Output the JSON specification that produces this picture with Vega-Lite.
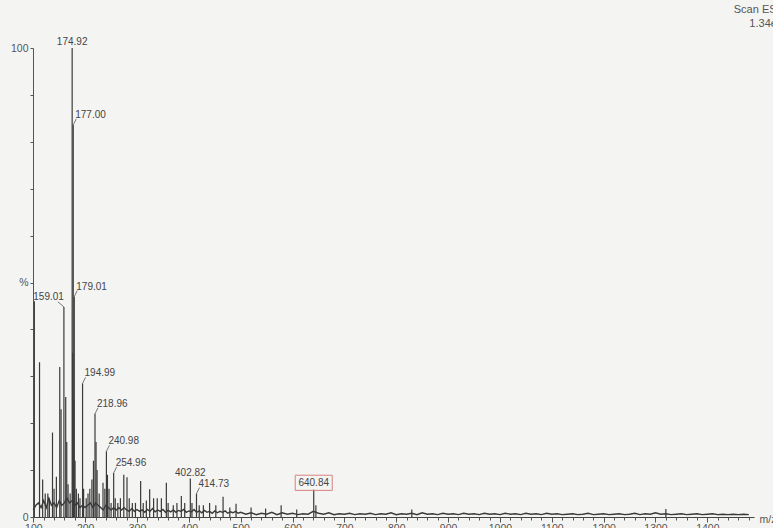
{
  "$schema": "https://vega.github.io/schema/vega-lite/v6.json",
  "width": 721,
  "height": 469,
  "autosize": {"type": "none"},
  "padding": {"left": 33, "top": 48, "right": 19, "bottom": 11},
  "background": "#f4f4f3",
  "config": {
    "view": {"stroke": null},
    "font": "Liberation Sans",
    "title": {"fontSize": 11, "color": "#555", "fontWeight": "normal", "anchor": "end", "frame": "group", "dx": 29, "offset": 8, "subtitleFontSize": 11, "subtitleColor": "#555", "subtitlePadding": 0, "subtitleFont": "Liberation Sans", "font": "Liberation Sans"}
  },
  "title": {"text": "Scan ES+", "subtitle": "1.34e7"},
  "resolve": {"axis": {"x": "independent"}},
  "datasets": {
    "peaks": [
      {"mz": 102, "intensity": 46}, {"mz": 112, "intensity": 33}, {"mz": 118, "intensity": 8}, {"mz": 123, "intensity": 5},
      {"mz": 128, "intensity": 5}, {"mz": 131, "intensity": 4}, {"mz": 137, "intensity": 18}, {"mz": 140, "intensity": 6},
      {"mz": 144.5, "intensity": 8.6}, {"mz": 151, "intensity": 32}, {"mz": 153.5, "intensity": 23}, {"mz": 159.01, "intensity": 44.8},
      {"mz": 162.5, "intensity": 25.6}, {"mz": 164.5, "intensity": 16}, {"mz": 167, "intensity": 7}, {"mz": 171, "intensity": 5},
      {"mz": 174.92, "intensity": 100}, {"mz": 176, "intensity": 35}, {"mz": 177.0, "intensity": 83.6}, {"mz": 178, "intensity": 25},
      {"mz": 179.01, "intensity": 47}, {"mz": 180.5, "intensity": 12}, {"mz": 183, "intensity": 6}, {"mz": 187, "intensity": 5},
      {"mz": 190, "intensity": 4}, {"mz": 194.99, "intensity": 28.5}, {"mz": 197, "intensity": 6}, {"mz": 202, "intensity": 4},
      {"mz": 205.5, "intensity": 5}, {"mz": 209, "intensity": 6}, {"mz": 213, "intensity": 8}, {"mz": 216, "intensity": 12},
      {"mz": 218.96, "intensity": 22}, {"mz": 221, "intensity": 16}, {"mz": 223, "intensity": 10}, {"mz": 227, "intensity": 5},
      {"mz": 234.4, "intensity": 7.3}, {"mz": 238, "intensity": 6}, {"mz": 240.98, "intensity": 14}, {"mz": 243, "intensity": 9},
      {"mz": 246, "intensity": 6}, {"mz": 250, "intensity": 3}, {"mz": 254.96, "intensity": 9.4}, {"mz": 258, "intensity": 4},
      {"mz": 263, "intensity": 3}, {"mz": 268, "intensity": 4}, {"mz": 274.5, "intensity": 9}, {"mz": 280.7, "intensity": 8.5},
      {"mz": 285, "intensity": 4}, {"mz": 291, "intensity": 3}, {"mz": 297, "intensity": 3}, {"mz": 307, "intensity": 7.7},
      {"mz": 312, "intensity": 3}, {"mz": 318, "intensity": 3.5}, {"mz": 324.4, "intensity": 5.9}, {"mz": 332, "intensity": 4},
      {"mz": 339, "intensity": 4}, {"mz": 347, "intensity": 4}, {"mz": 356.6, "intensity": 7.3}, {"mz": 360, "intensity": 3},
      {"mz": 370, "intensity": 2.5}, {"mz": 377, "intensity": 3}, {"mz": 385.5, "intensity": 4.5}, {"mz": 392, "intensity": 3},
      {"mz": 402.82, "intensity": 8.2}, {"mz": 406, "intensity": 3}, {"mz": 414.73, "intensity": 5}, {"mz": 420, "intensity": 2.5},
      {"mz": 428, "intensity": 2.5}, {"mz": 440, "intensity": 3}, {"mz": 452, "intensity": 2.5}, {"mz": 466, "intensity": 4.3},
      {"mz": 479, "intensity": 2}, {"mz": 491, "intensity": 2.8}, {"mz": 520, "intensity": 2}, {"mz": 548, "intensity": 1.8},
      {"mz": 578, "intensity": 2.5}, {"mz": 608, "intensity": 1.6}, {"mz": 640.84, "intensity": 5.8}, {"mz": 645, "intensity": 2.5},
      {"mz": 830, "intensity": 1.6}, {"mz": 1320, "intensity": 1.7}
    ],
    "noise": [
      {"mz": 100, "intensity": 1.5}, {"mz": 105, "intensity": 2.5}, {"mz": 110, "intensity": 3}, {"mz": 115, "intensity": 2},
      {"mz": 120, "intensity": 3.5}, {"mz": 125, "intensity": 2}, {"mz": 130, "intensity": 4}, {"mz": 135, "intensity": 2.5},
      {"mz": 140, "intensity": 3}, {"mz": 145, "intensity": 2}, {"mz": 150, "intensity": 3.5}, {"mz": 155, "intensity": 2.5},
      {"mz": 160, "intensity": 3}, {"mz": 165, "intensity": 4}, {"mz": 170, "intensity": 3}, {"mz": 175, "intensity": 3.5},
      {"mz": 180, "intensity": 2.5}, {"mz": 185, "intensity": 3}, {"mz": 190, "intensity": 2}, {"mz": 195, "intensity": 2.5},
      {"mz": 200, "intensity": 2}, {"mz": 205, "intensity": 2.5}, {"mz": 210, "intensity": 3}, {"mz": 215, "intensity": 2},
      {"mz": 220, "intensity": 3}, {"mz": 225, "intensity": 2.5}, {"mz": 230, "intensity": 2}, {"mz": 235, "intensity": 1.5},
      {"mz": 240, "intensity": 2.5}, {"mz": 245, "intensity": 2}, {"mz": 250, "intensity": 1.5}, {"mz": 255, "intensity": 2},
      {"mz": 260, "intensity": 1.5}, {"mz": 265, "intensity": 2}, {"mz": 270, "intensity": 1.5}, {"mz": 275, "intensity": 2},
      {"mz": 280, "intensity": 1.5}, {"mz": 285, "intensity": 1.2}, {"mz": 290, "intensity": 1.8}, {"mz": 295, "intensity": 1.2},
      {"mz": 300, "intensity": 1.6}, {"mz": 305, "intensity": 1.2}, {"mz": 310, "intensity": 1.5}, {"mz": 315, "intensity": 1},
      {"mz": 320, "intensity": 1.6}, {"mz": 325, "intensity": 1.2}, {"mz": 330, "intensity": 1.8}, {"mz": 335, "intensity": 1.1},
      {"mz": 340, "intensity": 1.5}, {"mz": 345, "intensity": 1.2}, {"mz": 350, "intensity": 1.6}, {"mz": 355, "intensity": 1},
      {"mz": 360, "intensity": 1.4}, {"mz": 365, "intensity": 1.1}, {"mz": 370, "intensity": 1.5}, {"mz": 375, "intensity": 1},
      {"mz": 380, "intensity": 1.4}, {"mz": 385, "intensity": 1.2}, {"mz": 390, "intensity": 1.6}, {"mz": 395, "intensity": 1},
      {"mz": 400, "intensity": 1.3}, {"mz": 405, "intensity": 1.1}, {"mz": 410, "intensity": 1.6}, {"mz": 415, "intensity": 1},
      {"mz": 420, "intensity": 1.3}, {"mz": 425, "intensity": 0.9}, {"mz": 430, "intensity": 1.4}, {"mz": 435, "intensity": 1},
      {"mz": 440, "intensity": 1.2}, {"mz": 445, "intensity": 0.8}, {"mz": 450, "intensity": 1.3}, {"mz": 455, "intensity": 0.9},
      {"mz": 460, "intensity": 1.2}, {"mz": 465, "intensity": 1}, {"mz": 470, "intensity": 1.3}, {"mz": 475, "intensity": 0.8},
      {"mz": 480, "intensity": 1.1}, {"mz": 485, "intensity": 0.9}, {"mz": 490, "intensity": 1.2}, {"mz": 495, "intensity": 0.8},
      {"mz": 500, "intensity": 1}, {"mz": 510, "intensity": 0.6}, {"mz": 520, "intensity": 0.9}, {"mz": 530, "intensity": 0.5},
      {"mz": 540, "intensity": 0.8}, {"mz": 550, "intensity": 0.6}, {"mz": 560, "intensity": 1.0}, {"mz": 570, "intensity": 0.5},
      {"mz": 580, "intensity": 0.9}, {"mz": 590, "intensity": 0.6}, {"mz": 600, "intensity": 0.8}, {"mz": 610, "intensity": 0.5},
      {"mz": 620, "intensity": 0.7}, {"mz": 630, "intensity": 0.6}, {"mz": 640, "intensity": 1.2}, {"mz": 650, "intensity": 0.8},
      {"mz": 660, "intensity": 0.6}, {"mz": 670, "intensity": 0.9}, {"mz": 680, "intensity": 0.5}, {"mz": 690, "intensity": 0.7},
      {"mz": 700, "intensity": 0.6}, {"mz": 710, "intensity": 0.8}, {"mz": 720, "intensity": 0.5}, {"mz": 730, "intensity": 0.7},
      {"mz": 740, "intensity": 0.6}, {"mz": 750, "intensity": 0.8}, {"mz": 760, "intensity": 0.5}, {"mz": 770, "intensity": 0.7},
      {"mz": 780, "intensity": 0.6}, {"mz": 790, "intensity": 0.9}, {"mz": 800, "intensity": 0.5}, {"mz": 810, "intensity": 0.7},
      {"mz": 820, "intensity": 0.6}, {"mz": 830, "intensity": 0.8}, {"mz": 840, "intensity": 0.5}, {"mz": 850, "intensity": 0.9},
      {"mz": 860, "intensity": 0.6}, {"mz": 870, "intensity": 0.7}, {"mz": 880, "intensity": 0.5}, {"mz": 890, "intensity": 0.8},
      {"mz": 900, "intensity": 0.6}, {"mz": 910, "intensity": 0.7}, {"mz": 920, "intensity": 0.5}, {"mz": 930, "intensity": 0.8},
      {"mz": 940, "intensity": 0.6}, {"mz": 950, "intensity": 0.7}, {"mz": 960, "intensity": 0.5}, {"mz": 970, "intensity": 0.8},
      {"mz": 980, "intensity": 0.6}, {"mz": 990, "intensity": 0.7}, {"mz": 1000, "intensity": 0.5}, {"mz": 1010, "intensity": 0.8},
      {"mz": 1020, "intensity": 0.6}, {"mz": 1030, "intensity": 0.7}, {"mz": 1040, "intensity": 0.5}, {"mz": 1050, "intensity": 0.8},
      {"mz": 1060, "intensity": 0.6}, {"mz": 1070, "intensity": 0.7}, {"mz": 1080, "intensity": 0.5}, {"mz": 1090, "intensity": 0.8},
      {"mz": 1100, "intensity": 0.6}, {"mz": 1110, "intensity": 0.7}, {"mz": 1120, "intensity": 0.5}, {"mz": 1130, "intensity": 0.6},
      {"mz": 1140, "intensity": 0.7}, {"mz": 1150, "intensity": 0.5}, {"mz": 1160, "intensity": 0.6}, {"mz": 1170, "intensity": 0.8},
      {"mz": 1180, "intensity": 0.5}, {"mz": 1190, "intensity": 0.6}, {"mz": 1200, "intensity": 0.7}, {"mz": 1210, "intensity": 0.5},
      {"mz": 1220, "intensity": 0.6}, {"mz": 1230, "intensity": 0.7}, {"mz": 1240, "intensity": 0.5}, {"mz": 1250, "intensity": 0.6},
      {"mz": 1260, "intensity": 0.8}, {"mz": 1270, "intensity": 0.5}, {"mz": 1280, "intensity": 0.7}, {"mz": 1290, "intensity": 0.6},
      {"mz": 1300, "intensity": 0.9}, {"mz": 1310, "intensity": 0.6}, {"mz": 1320, "intensity": 0.7}, {"mz": 1330, "intensity": 0.5},
      {"mz": 1340, "intensity": 0.6}, {"mz": 1350, "intensity": 0.7}, {"mz": 1360, "intensity": 0.5}, {"mz": 1370, "intensity": 0.6},
      {"mz": 1380, "intensity": 0.7}, {"mz": 1390, "intensity": 0.5}, {"mz": 1400, "intensity": 0.6}, {"mz": 1410, "intensity": 0.7},
      {"mz": 1420, "intensity": 0.5}, {"mz": 1430, "intensity": 0.6}, {"mz": 1440, "intensity": 0.5}, {"mz": 1450, "intensity": 0.6},
      {"mz": 1460, "intensity": 0.5}, {"mz": 1470, "intensity": 0.6}, {"mz": 1480, "intensity": 0.5}
    ],
    "labelsRight": [
      {"mz": 177.0, "intensity": 83.6, "label": "177.00"},
      {"mz": 179.01, "intensity": 47, "label": "179.01"},
      {"mz": 194.99, "intensity": 28.5, "label": "194.99"},
      {"mz": 218.96, "intensity": 22, "label": "218.96"},
      {"mz": 240.98, "intensity": 14, "label": "240.98"},
      {"mz": 254.96, "intensity": 9.4, "label": "254.96"},
      {"mz": 414.73, "intensity": 5, "label": "414.73"}
    ],
    "labelsLeft": [
      {"mz": 159.01, "intensity": 44.8, "label": "159.01"}
    ],
    "labelsAbove": [
      {"mz": 174.92, "intensity": 100, "label": "174.92"},
      {"mz": 402.82, "intensity": 8.2, "label": "402.82"}
    ],
    "labelsBoxed": [
      {"mz": 640.84, "intensity": 5.8, "label": "640.84"}
    ]
  },
  "layer": [
    {
      "data": {"name": "noise"},
      "mark": {"type": "line", "color": "#3a3a3a", "strokeWidth": 1.4},
      "encoding": {
        "x": {
          "field": "mz", "type": "quantitative",
          "scale": {"domain": [99.4, 1490], "nice": false, "zero": false},
          "axis": {
            "orient": "bottom",
            "title": "m/z",
            "values": [100,200,300,400,500,600,700,800,900,1000,1100,1200,1300,1400],
            "format": "d",
            "labelOverlap": false,
            "tickSize": 5,
            "grid": false,
            "domainColor": "#444",
            "tickColor": "#555",
            "labelColor": "#555",
            "labelFontSize": 10.5,
            "labelPadding": 1,
            "labelFlush": false,
            "titleAnchor": "end",
            "titleAlign": "left",
            "titleX": 726,
            "titleY": 2,
            "titleBaseline": "middle",
            "titleFontWeight": "normal",
            "titleFontSize": 10.5,
            "titleColor": "#555"
          }
        },
        "y": {
          "field": "intensity", "type": "quantitative",
          "scale": {"domain": [0, 100], "nice": false},
          "axis": {
            "title": null,
            "values": [0,10,20,30,40,50,60,70,80,90,100],
            "labelExpr": "datum.value === 100 ? '100' : datum.value === 50 ? '%' : datum.value === 0 ? '0' : ''",
            "labelOverlap": false,
            "grid": false,
            "tickSize": 3,
            "labelPadding": 2,
            "domainColor": "#555",
            "tickColor": "#555",
            "labelColor": "#555",
            "labelFontSize": 10.5
          }
        }
      }
    },
    {
      "data": {"name": "peaks"},
      "mark": {"type": "rule", "color": "#3a3a3a", "strokeWidth": 1.2},
      "encoding": {
        "x": {
          "field": "mz", "type": "quantitative",
          "axis": {
            "orient": "bottom",
            "offset": 0,
            "title": null,
            "values": [120,140,160,180,220,240,260,280,320,340,360,380,420,440,460,480,520,540,560,580,620,640,660,680,720,740,760,780,820,840,860,880,920,940,960,980,1020,1040,1060,1080,1120,1140,1160,1180,1220,1240,1260,1280,1320,1340,1360,1380,1420,1440,1460,1480],
            "labels": false,
            "domain": false,
            "grid": false,
            "tickSize": 3,
            "tickColor": "#555"
          }
        },
        "y": {"field": "intensity", "type": "quantitative"},
        "y2": {"datum": 0}
      }
    },
    {
      "data": {"name": "labelsRight"},
      "layer": [
        {
          "mark": {"type": "rule", "color": "#555", "strokeWidth": 0.8, "x2Offset": 3, "y2Offset": -6},
          "encoding": {
            "x": {"field": "mz", "type": "quantitative", "axis": null},
            "y": {"field": "intensity", "type": "quantitative"},
            "x2": {"field": "mz"},
            "y2": {"field": "intensity"}
          }
        },
        {
          "mark": {"type": "text", "align": "left", "baseline": "bottom", "dx": 2, "dy": -5, "fontSize": 10, "color": "#444"},
          "encoding": {
            "x": {"field": "mz", "type": "quantitative", "axis": null},
            "y": {"field": "intensity", "type": "quantitative"},
            "text": {"field": "label"}
          }
        }
      ]
    },
    {
      "data": {"name": "labelsLeft"},
      "layer": [
        {
          "mark": {"type": "rule", "color": "#555", "strokeWidth": 0.8, "x2Offset": -6, "y2Offset": -5},
          "encoding": {
            "x": {"field": "mz", "type": "quantitative", "axis": null},
            "y": {"field": "intensity", "type": "quantitative"},
            "x2": {"field": "mz"},
            "y2": {"field": "intensity"}
          }
        },
        {
          "mark": {"type": "text", "align": "right", "baseline": "bottom", "dx": 0, "dy": -5, "fontSize": 10, "color": "#444"},
          "encoding": {
            "x": {"field": "mz", "type": "quantitative", "axis": null},
            "y": {"field": "intensity", "type": "quantitative"},
            "text": {"field": "label"}
          }
        }
      ]
    },
    {
      "data": {"name": "labelsAbove"},
      "mark": {"type": "text", "align": "center", "baseline": "bottom", "dy": -1, "fontSize": 10, "color": "#444"},
      "encoding": {
        "x": {"field": "mz", "type": "quantitative", "axis": null},
        "y": {"field": "intensity", "type": "quantitative"},
        "text": {"field": "label"}
      }
    },
    {
      "data": {"name": "labelsBoxed"},
      "layer": [
        {
          "mark": {"type": "point", "shape": "M-1,-0.41L1,-0.41L1,0.41L-1,0.41Z", "size": 1369, "filled": false, "stroke": "#d98080", "strokeWidth": 1, "opacity": 1, "yOffset": -7},
          "encoding": {
            "x": {"field": "mz", "type": "quantitative", "axis": null},
            "y": {"field": "intensity", "type": "quantitative"}
          }
        },
        {
          "mark": {"type": "text", "align": "center", "baseline": "middle", "dy": -7, "fontSize": 10, "color": "#444"},
          "encoding": {
            "x": {"field": "mz", "type": "quantitative", "axis": null},
            "y": {"field": "intensity", "type": "quantitative"},
            "text": {"field": "label"}
          }
        }
      ]
    }
  ]
}
